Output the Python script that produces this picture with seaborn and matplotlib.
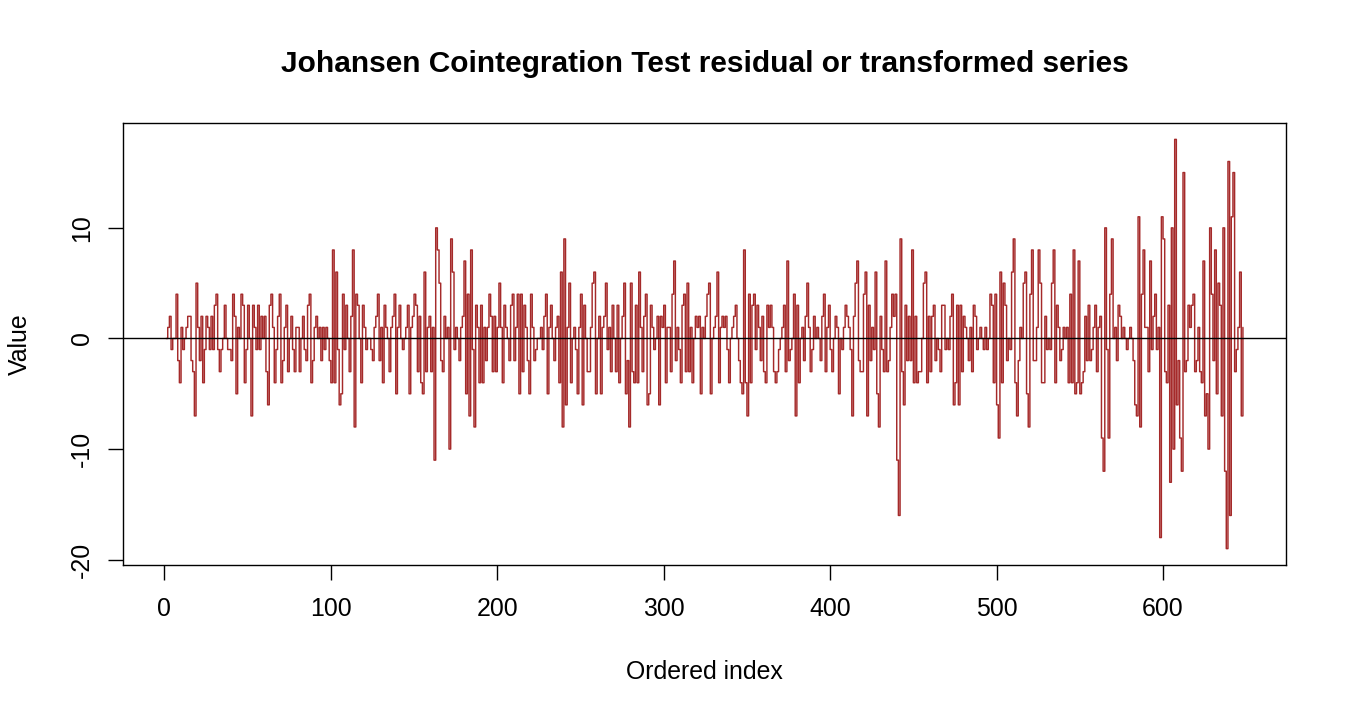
import numpy as np
import pandas as pd
import matplotlib
matplotlib.use("Agg")
import matplotlib.pyplot as plt
import seaborn as sns

# ---- data ----
vals_001_100 = [0, 1, 2, -1, 0, 0, 4, -2, -4, 1,
                -1, 0, 1, 2, 2, -2, -3, -7, 5, 1,
                -2, 2, -4, -1, 2, 1, -1, 2, -1, 3,
                4, -1, -3, -1, 0, 3, 0, -1, -1, -2,
                4, 2, -5, 1, 0, 4, 3, -4, -1, 3,
                0, -7, 3, 1, -1, 3, -1, 2, 0, 2,
                -3, -6, 3, 4, 1, -4, -1, 2, 4, -4,
                -2, 1, 3, -3, 0, 2, -1, -3, 1, 1,
                -3, 0, 2, -1, -2, 3, 4, -4, -2, 1,
                2, 0, 1, -2, 1, -1, 1, 0, -2, -4]
vals_101_200 = [8, -4, 6, -1, -6, -5, 4, -1, 3, 0,
                -3, 2, 8, -8, 4, 3, 0, -4, 3, 1,
                -1, 0, 0, -1, -2, 1, 2, 4, -2, 1,
                -4, 3, 1, 0, -3, 1, 2, 4, -5, 1,
                3, 0, -1, 0, 1, 3, -5, 1, 2, 4,
                3, -3, 2, -4, -5, 6, -3, 1, 2, -3,
                1, -11, 10, 8, 5, -2, -3, 2, 0, 1,
                -10, 9, 6, -1, 1, 0, -2, 1, 2, 7,
                -5, 4, -7, 8, -1, -8, 3, 1, -4, 3,
                -4, 1, -2, 1, 4, 2, -3, 2, -3, 1]
vals_201_300 = [5, 1, -4, 3, 1, 0, -2, 3, 4, -2,
                1, 4, -5, 4, -3, 3, 1, -2, -5, 4,
                1, -2, -1, 0, 0, 1, -1, 2, 4, -5,
                1, 3, 0, -2, 1, 2, -4, 6, -8, 9,
                -6, 1, 5, -4, 0, 1, -1, -5, 1, 4,
                -6, 3, 0, -3, -3, 1, 5, 6, -5, 0,
                2, -5, 1, 2, 5, -1, 1, -3, 3, 0,
                -3, 3, -4, 0, 2, 5, -5, -2, -8, 5,
                -3, -4, 3, -4, 6, 1, -3, 2, 4, -6,
                -5, 3, 1, -1, 0, 2, -6, 2, 1, 3]
vals_301_400 = [-4, 1, 1, -3, 4, 7, -2, 1, -1, -4,
                3, 4, -3, 5, -3, 1, -4, 0, 2, 1,
                2, -5, 1, 0, 2, 4, 5, -5, 0, 1,
                2, 6, -4, 1, 2, 1, 2, -1, -4, 0,
                1, 2, 3, 0, -2, -4, -5, 8, -4, -7,
                4, -4, 3, 4, -1, 3, 1, -2, 2, -3,
                -4, 3, 1, 3, 1, -3, -4, -3, -1, 0,
                1, 3, -3, 7, -2, -1, 0, 4, -7, 3,
                -4, 0, 1, -2, 2, 5, 1, -3, -1, 2,
                0, 1, 0, -2, 2, 4, -3, 1, 3, -1]
vals_401_500 = [-3, 0, 2, 1, -5, 0, -1, 1, 3, 2,
                1, -1, -7, 2, 5, 7, -2, -3, -3, 4,
                6, -7, 3, -2, 1, -1, 6, -5, -8, 2,
                -1, -3, 7, -3, -2, 1, 4, 2, 4, -11,
                -16, 9, -3, -6, 3, -2, 2, -2, 8, -4,
                2, -4, -3, -3, 0, 5, 6, -4, 2, -3,
                2, 3, -2, 0, -1, -3, 3, 3, -1, 0,
                -1, 2, 4, -6, -4, 3, -6, 3, -3, 2,
                1, 0, -2, 1, -3, 3, 2, -1, 0, 1,
                0, -1, 1, -1, 0, 4, 3, -4, 4, -6]
vals_501_600 = [-9, 6, -4, 5, 3, -2, 0, -1, 6, 9,
                -4, -7, -2, 1, 0, 5, 6, -5, -8, 4,
                8, -2, -2, 1, 8, 5, -4, -4, 2, -1,
                0, -1, 5, 8, -4, 3, 1, -2, -1, 1,
                0, 1, -4, 4, -4, 8, -5, -4, 7, -5,
                -4, -3, 2, -2, 3, -2, -1, 1, 3, -3,
                1, 2, -9, -12, 10, -1, -9, 4, 9, 0,
                1, -2, 3, 2, 0, 1, 0, -1, 0, 1,
                0, -2, -6, -7, 11, -8, 4, 8, 1, 1,
                -3, 7, -1, 2, 4, -1, 1, -18, 11, 9]
vals_601_648 = [-3, -4, 3, -13, 10, -10, 18, -6, -2, -9,
                -12, 15, -3, -2, 3, 1, 3, 4, -3, -2,
                1, -3, -4, 7, -7, -5, -10, 10, 4, -2,
                8, -5, 5, 3, -7, 10, -12, -19, 16, -16,
                11, 15, -3, -1, 1, 6, -7, 1]

x_ticks = [0, 100, 200, 300, 400, 500, 600]
y_ticks = [-20, -10, 0, 10]
title_text = "Johansen Cointegration Test residual or transformed series"
x_label = "Ordered index"
y_label = "Value"

values = (vals_001_100 + vals_101_200 + vals_201_300 + vals_301_400
          + vals_401_500 + vals_501_600 + vals_601_648)
df = pd.DataFrame({"index": np.arange(1, len(values) + 1), "value": values})

# ---- styling ----
sns.set_theme(style="white")
plt.rcParams["font.family"] = ["Liberation Sans", "DejaVu Sans"]
plt.rcParams["axes.edgecolor"] = "black"
plt.rcParams["axes.linewidth"] = 1.0

fig = plt.figure(figsize=(13.5, 7.2), dpi=100)
ax = fig.add_axes([123 / 1350, 1 - 565 / 720, (1286 - 123) / 1350, (565 - 123) / 720])

sns.lineplot(data=df, x="index", y="value", ax=ax, estimator=None,
             drawstyle="steps-post", color="#A52A2A", linewidth=1.05)
ax.axhline(0, color="black", linewidth=1.0)

n = len(values)
pad_x = (n - 1) * 0.04
ax.set_xlim(1 - pad_x, n + pad_x)
ymin, ymax = min(values), max(values)
pad_y = (ymax - ymin) * 0.04
ax.set_ylim(ymin - pad_y, ymax + pad_y)

ax.set_xticks(x_ticks)
ax.set_xticklabels([str(t) for t in x_ticks])
ax.set_yticks(y_ticks)
ax.set_yticklabels([str(t) for t in y_ticks])

ax.tick_params(axis="both", which="major", direction="out", length=10.8,
               width=1.0, color="black", labelsize=17.9, labelcolor="black",
               bottom=True, left=True)
ax.tick_params(axis="x", pad=12.5)
ax.tick_params(axis="y", pad=10, labelrotation=90)
for lab in ax.get_yticklabels():
    lab.set_va("center")

for side in ["top", "right", "bottom", "left"]:
    ax.spines[side].set_visible(True)
    ax.spines[side].set_color("black")
    ax.spines[side].set_linewidth(1.0)

ax.set_xlabel(x_label, fontsize=17.9, color="black")
ax.xaxis.label.set_va("center")
ax.xaxis.set_label_coords(0.5, (565 - 672) / 442)
ax.set_ylabel(y_label, fontsize=17.9, color="black")
ax.yaxis.label.set_va("center")
ax.yaxis.set_label_coords((20 - 123) / 1163, 0.5)

ax.set_title(title_text, fontsize=21.5, fontweight="bold", color="black",
             y=(565 - 64) / 442, va="center", pad=0)

fig.savefig("out.png", dpi=100, facecolor="white")
